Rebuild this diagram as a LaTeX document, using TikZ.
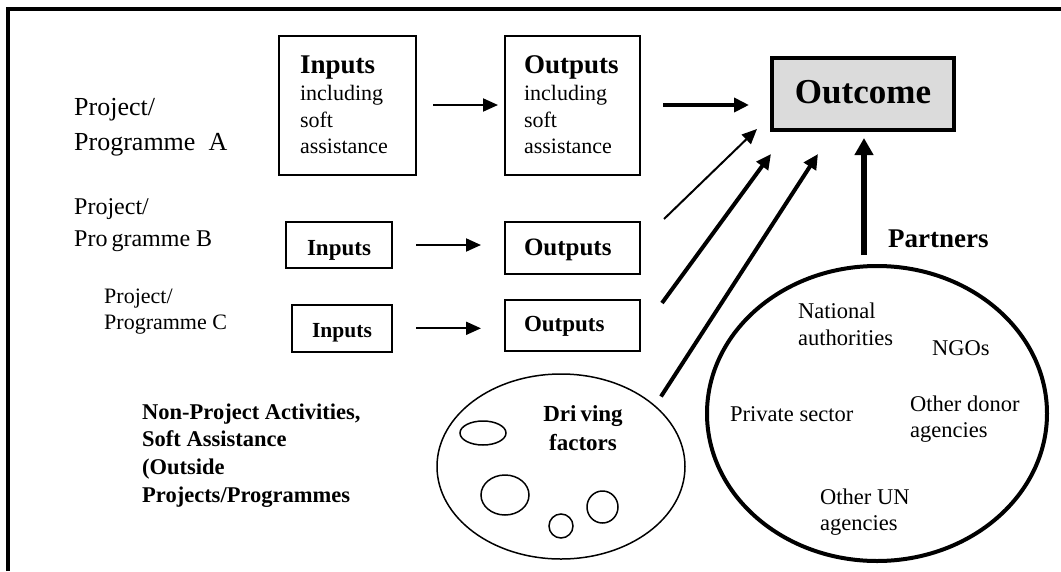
\documentclass[tikz,border=0pt]{standalone}
\usepackage{fontspec}
\setmainfont{Liberation Serif}
\usetikzlibrary{arrows.meta,shapes.geometric,calc}
\newcommand\fsz[2]{\fontsize{#1}{#2}\selectfont}
\begin{document}
\begin{tikzpicture}[x=1pt,y=-1pt,
  box/.style={draw, line width=2pt, inner sep=0pt},
  arr/.style={-{Triangle[length=15pt,width=13pt]}, line width=2pt},
  thickarr/.style={-{Triangle[length=15pt,width=14pt]}, line width=4pt},
  bigarr/.style={-{Triangle[length=17pt,width=18pt]}, line width=6pt},
  lbl/.style={anchor=base west, inner sep=0pt, align=left},
  blob/.style={draw, ellipse, line width=1.5pt, inner sep=0pt}]
\useasboundingbox (0,0) rectangle (1061,571);
% frame
\draw[line width=4pt] (8,571) -- (8,9) -- (1061,9);

% project labels (anchor = baseline of last line)
\node[lbl, font=\fsz{26}{35}] (pa) at (74,150) {Project/\\Programme\ \ A};
\node[lbl, font=\fsz{24}{32}] (pb) at (74,246) {Project/\\Pro\kern4pt gramme B};
\node[lbl, font=\fsz{22}{26}] (pc) at (104,329) {Project/\\Programme C};

% row A
\node[box, minimum width=137pt, minimum height=139pt, text width=95pt, align=left, font=\fsz{22}{26.7}] (inA) at (347.5,105)
  {{\fsz{27}{27}\bfseries Inputs}\\including\\soft\\assistance};
\node[box, minimum width=135pt, minimum height=139pt, text width=97pt, align=left, font=\fsz{22}{26.7}] (outA) at (572.5,105)
  {{\fsz{27}{27}\bfseries Outputs}\\including\\soft\\assistance};
% row B
\node[box, minimum width=106pt, minimum height=46pt, text height=20.4pt, text depth=0pt, font=\fsz{23}{23}\bfseries] (inB) at (339,245) {Inputs};
\node[box, minimum width=135pt, minimum height=52pt, text width=97pt, text height=14pt, text depth=0pt, align=left, font=\fsz{25}{25}\bfseries] (outB) at (572.5,248) {Outputs};
% row C
\node[box, minimum width=100pt, minimum height=46.6pt, text height=17.4pt, text depth=0pt, font=\fsz{21.5}{21.5}\bfseries] (inC) at (342,328.3) {Inputs};
\node[box, minimum width=135pt, minimum height=51pt, text width=97pt, text height=11pt, text depth=0pt, align=left, font=\fsz{23}{23}\bfseries] (outC) at (572.5,325.5) {Outputs};

% outcome
\node[draw, line width=4pt, fill=black!14, minimum width=182pt, minimum height=72pt, text height=18pt, text depth=0pt, font=\fsz{35}{35}\bfseries] (outcome) at (863,94) {Outcome};

% horizontal arrows
\draw[arr] ($(inA.east)+(16,0)$) -- ($(outA.west)+(-6,0)$);
\draw[thickarr] ($(outA.east)+(22,0)$) -- ($(outcome.west |- outA.east)+(-21,0)$);
\draw[arr] ($(inB.east)+(23,0)$) -- ($(outB.west |- inB.east)+(-23,0)$);
\draw[arr] ($(inC.east)+(23,0)$) -- ($(outC.west |- inC.east)+(-23,0)$);

% driving factors
\node[blob, minimum width=248pt, minimum height=185pt] (drive) at (561,466.5) {};
\node[blob, minimum width=46pt, minimum height=24pt] (s1) at (483,433) {};
\node[blob, minimum width=48pt, minimum height=40pt] (s2) at (505,495) {};
\node[blob, minimum width=24pt, minimum height=24pt] (s3) at (561,526) {};
\node[blob, minimum width=31pt, minimum height=32pt] (s4) at (602.5,507) {};
\node[anchor=base, inner sep=0pt, align=center, font=\fsz{23}{29.7}\bfseries] (dtxt) at (583,450.7) {Dri\kern4pt ving\\factors};

% non-project label
\node[lbl, font=\fsz{22.5}{27.6}\bfseries] (np) at (142,502)
  {Non-Project Activities,\\Soft Assistance\\(Outside\\Projects/Programmes};

% partners
\node[draw, ellipse, line width=4pt, minimum width=340pt, minimum height=295pt, inner sep=0pt] (part) at (877,413.5) {};
\node[lbl, font=\fsz{27}{27}\bfseries] (ptxt) at (888,247) {Partners};
\node[lbl, font=\fsz{22.5}{27}] (nat) at (798,345) {National\\authorities};
\node[lbl, font=\fsz{22.5}{27}] (ngo) at (932,355) {NGOs};
\node[lbl, font=\fsz{22.5}{27}] (priv) at (730,421) {Private sector};
\node[lbl, font=\fsz{22.5}{26}] (donor) at (910,437) {Other donor\\agencies};
\node[lbl, font=\fsz{22.5}{26}] (un) at (820,530) {Other UN\\agencies};

% diagonal arrows
\coordinate (bstart) at ($(outB.north east)+(23,-2)$);
\coordinate (cstart) at ($(outC.north east)+(21,4)$);
\coordinate (dstart) at ($(drive.center)+(100,-70)$);
\draw[arr] (bstart) -- ($(outcome.south west)+(-13,-3)$);
\draw[thickarr] (cstart) -- ($(outcome.south west)+(1,22)$);
\draw[thickarr] (dstart) -- ($(outcome.south west)+(48,22)$);
\coordinate (pstart) at ($(outcome.south)+(1,123)$);
\draw[bigarr] (pstart) -- ($(outcome.south)+(1,6)$);
\end{tikzpicture}
\end{document}
